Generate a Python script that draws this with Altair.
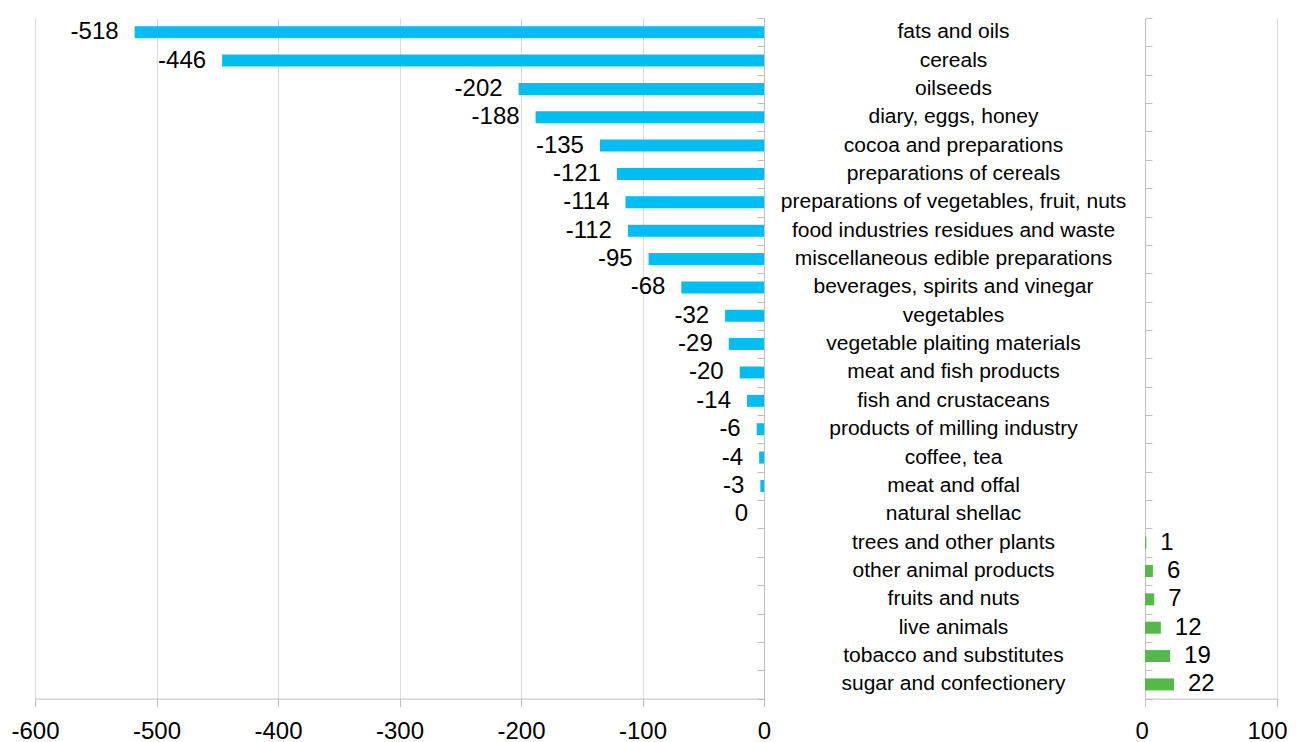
import altair as alt
import pandas as pd

categories = [
    "fats and oils", "cereals", "oilseeds", "diary, eggs, honey",
    "cocoa and preparations", "preparations of cereals",
    "preparations of vegetables, fruit, nuts", "food industries residues and waste",
    "miscellaneous edible preparations", "beverages, spirits and vinegar",
    "vegetables", "vegetable plaiting materials", "meat and fish products",
    "fish and crustaceans", "products of milling industry", "coffee, tea",
    "meat and offal", "natural shellac", "trees and other plants",
    "other animal products", "fruits and nuts", "live animals",
    "tobacco and substitutes", "sugar and confectionery",
]
values = [-518, -446, -202, -188, -135, -121, -114, -112, -95, -68,
          -32, -29, -20, -14, -6, -4, -3, 0, 1, 6, 7, 12, 19, 22]
left_ticks = [-600, -500, -400, -300, -200, -100, 0]
right_ticks = [0, 100]

df = pd.DataFrame({"category": categories, "value": values})
df["label"] = [("-" + str(abs(v))) if v < 0 else str(v) for v in values]
left_df = df[df["value"] <= 0]
right_df = df[df["value"] > 0]
names_df = pd.DataFrame({"category": categories})

FONT = "Liberation Sans"
GRID = "#D9D9D9"
AX = "#BFBFBF"
H = 680.6
LW = 729
MW = 381
RW = 132

yscale = alt.Scale(domain=categories, paddingInner=0, paddingOuter=0)

xaxis_common = dict(title=None, grid=True, gridColor=GRID, domainColor=AX,
                    tickColor=AX, tickSize=8, labelFontSize=24, labelFont=FONT,
                    labelColor="black", labelPadding=13, labelOverlap=False)

left_bars = alt.Chart(left_df).mark_bar(size=12, color="#00BDF2").encode(
    x=alt.X("value:Q", scale=alt.Scale(domain=[-600, 0], nice=False),
            axis=alt.Axis(values=left_ticks, labelFlush=False,
                          labelExpr="datum.value < 0 ? '-' + format(-datum.value, 'd') : '0'",
                          **xaxis_common)),
    y=alt.Y("category:N", scale=yscale,
            axis=alt.Axis(orient="left", offset=-LW, labels=False, title=None,
                          tickBand="extent", tickSize=7, tickColor=AX,
                          domainColor=AX, grid=False)),
)
left_text = alt.Chart(left_df).mark_text(
    align="right", baseline="middle", dx=-16, fontSize=24, font=FONT, color="black"
).encode(x="value:Q", y=alt.Y("category:N", scale=yscale), text="label:N")
left = alt.layer(left_bars, left_text).properties(width=LW, height=H)

middle = alt.Chart(names_df).mark_text(
    align="center", baseline="middle", fontSize=21, font=FONT, color="black"
).encode(
    y=alt.Y("category:N", scale=yscale, axis=None),
    x=alt.value(MW / 2 - 1),
    text="category:N",
).properties(width=MW, height=H)

right_bars = alt.Chart(right_df).mark_bar(size=12, color="#55B848").encode(
    x=alt.X("value:Q", scale=alt.Scale(domain=[0, 100], nice=False),
            axis=alt.Axis(values=right_ticks, format="d", labelFlush=True,
                          labelFlushOffset=10, **xaxis_common)),
    y=alt.Y("category:N", scale=yscale,
            axis=alt.Axis(orient="right", offset=-RW, labels=False, title=None,
                          tickBand="extent", tickSize=7, tickColor=AX,
                          domainColor=AX, grid=False)),
)
right_text = alt.Chart(right_df).mark_text(
    align="left", baseline="middle", dx=14, fontSize=24, font=FONT, color="black"
).encode(x="value:Q", y=alt.Y("category:N", scale=yscale), text="label:N")
right = alt.layer(right_bars, right_text).properties(width=RW, height=H)

chart = alt.hconcat(left, middle, right, spacing=0, bounds="flush").configure_view(
    stroke=None
).properties(
    padding={"left": 2, "top": 9, "right": 0, "bottom": 0},
    background="white",
)

chart.save("out.html", embed_options={"renderer": "svg", "actions": False})
